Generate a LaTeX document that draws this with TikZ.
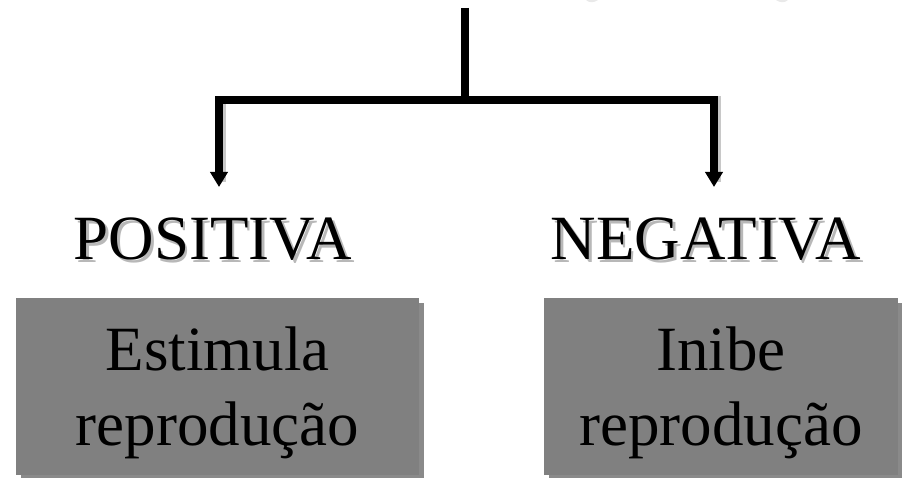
\documentclass[tikz,border=0pt]{standalone}
\usepackage{fontspec}
\setmainfont{Liberation Serif}
\usetikzlibrary{arrows.meta}
\definecolor{boxgray}{HTML}{808080}
\definecolor{boxshadow}{HTML}{8A8A8A}
\definecolor{txtshadow}{HTML}{B8B8B8}
\definecolor{lineshadow}{HTML}{C8C8C8}
\newcommand{\shadowtext}[1]{\makebox[0pt][l]{\hspace{2.5pt}\raisebox{-2.5pt}{\textcolor{txtshadow}{#1}}}#1}
\begin{document}
\begin{tikzpicture}[x=1pt,y=-1pt,
  conn/.style={line width=8pt, line join=miter},
  arr/.style={conn, -{Triangle[width=17pt,length=15pt]}},
  bigtext/.style={font=\fontsize{63}{75}\selectfont, inner sep=0pt, anchor=base},
  graybox/.style={fill=boxgray, draw=none, inner sep=0pt, anchor=north west},
  boxshade/.style={fill=boxshadow, draw=none, inner sep=0pt, anchor=north west}]
\useasboundingbox (0,0) rectangle (902,478);

% faint marks at the top edge
\fill[lineshadow!40] (586,0) .. controls (589,3) and (594,3) .. (598,0) -- cycle;
\fill[lineshadow!40] (776,0) .. controls (780,3) and (785,3) .. (788,0) -- cycle;

% coordinates of connectors
\coordinate (top) at (465,8);
\coordinate (mid) at (465,100);
\coordinate (ltip) at (219,187);
\coordinate (rtip) at (714,187);

% connector shadows
\begin{scope}[shift={(2.5,2.5)}]
  \draw[conn, lineshadow] (top) -- (mid);
  \draw[conn, lineshadow] (mid) -| (219,180);
  \draw[conn, lineshadow] (mid) -| (714,180);
\end{scope}

% connectors
\draw[conn] (top) -- (mid);
\draw[arr] (mid) -| (ltip);
\draw[arr] (mid) -| (rtip);

% titles with shadow
\node[bigtext] (pos) at (213,260) {\shadowtext{POSITIVA}};
\node[bigtext] (neg) at (706,260) {\shadowtext{NEGATIVA}};

% boxes
\node[boxshade, minimum width=403pt, minimum height=177pt] (lboxS) at (21,303) {};
\node[graybox, minimum width=403pt, minimum height=177pt] (lbox) at (16,298) {};
\node[boxshade, minimum width=354pt, minimum height=177pt] (rboxS) at (549,303) {};
\node[graybox, minimum width=354pt, minimum height=177pt] (rbox) at (544,298) {};

% box texts
\node[bigtext] (l1) at (217.5,370) {Estimula};
\node[bigtext] (l2) at (217.5,445) {reprodução};
\node[bigtext] (r1) at (721,370) {Inibe};
\node[bigtext] (r2) at (721,445) {reprodução};
\end{tikzpicture}
\end{document}
